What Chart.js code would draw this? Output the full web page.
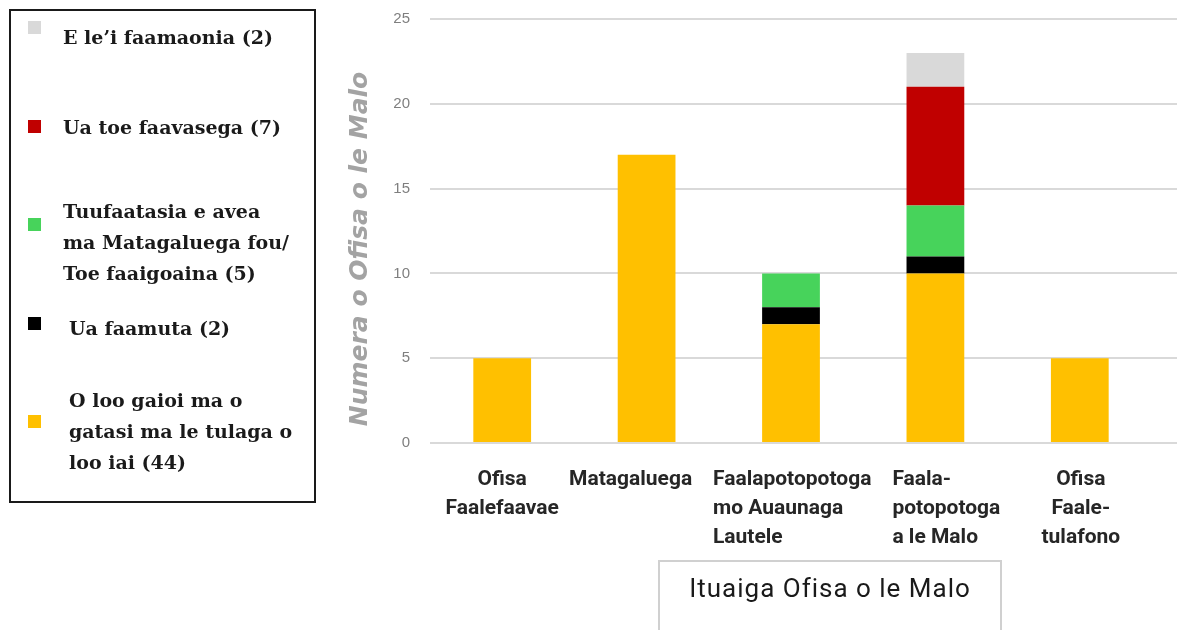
<!DOCTYPE html>
<html lang="sm">
<head>
<meta charset="UTF-8">
<title>Ituaiga Ofisa o le Malo</title>
<script src="https://cdn.jsdelivr.net/npm/chart.js"></script>
<style>
  html, body { margin: 0; padding: 0; background: #fff; }
  #wrap { position: relative; width: 1177px; height: 630px; overflow: hidden; }
  #myChart { position: absolute; left: 0; top: 0; }
  #legend {
    position: absolute; left: 9px; top: 9px; width: 303px; height: 490px;
    border: 2px solid #1a1a1a; box-sizing: content-box;
    font-family: 'DejaVu Serif', 'Liberation Serif', serif; font-weight: bold;
    font-size: 19px; line-height: 31px; color: #1a1a1a;
  }
  .box { position: absolute; width: 13px; height: 13px; left: 17px; }
  .txt { position: absolute; white-space: nowrap; }
  #ytitle {
    position: absolute; left: 359px; top: 249px; width: 400px; height: 30px;
    margin-left: -200px; margin-top: -15px; transform: rotate(-90deg);
    text-align: center; line-height: 30px; white-space: nowrap;
    font-family: 'DejaVu Sans', Verdana, sans-serif; font-size: 25px;
    font-weight: bold; font-style: italic; color: #a3a3a3;
  }
  #xtitle {
    position: absolute; left: 658px; top: 560px; width: 344px; height: 80px;
    border: 2px solid #d0d0d0; box-sizing: border-box;
    font-family: Roboto, sans-serif; letter-spacing: 1px;
    font-size: 26px; color: #1a1a1a; text-align: center; padding-top: 11px;
  }
</style>
</head>
<body>
<div id="wrap">
  <canvas id="myChart" width="1177" height="630"></canvas>
  <div id="legend"></div>
  <div id="ytitle">Numera o Ofisa o le Malo</div>
  <div id="xtitle">Ituaiga Ofisa o le Malo</div>
</div>
<script>
// Categories (x axis tick labels, one array per line)
const categories = [
  ['Ofisa', 'Faalefaavae'],
  ['Matagaluega'],
  ['Faalapotopotoga', 'mo Auaunaga', 'Lautele'],
  ['Faala-', 'potopotoga', 'a le Malo'],
  ['Ofisa', 'Faale-', 'tulafono']
];

// Series values, bottom of the stack first
const gaioi     = [5, 17, 7, 10, 5];
const faamuta   = [0, 0, 1, 1, 0];
const tuufaatas = [0, 0, 2, 3, 0];
const faavasega = [0, 0, 0, 7, 0];
const faamaonia = [0, 0, 0, 2, 0];

const seriesLabels = [
  'O loo gaioi ma o gatasi ma le tulaga o loo iai (44)',
  'Ua faamuta (2)',
  'Tuufaatasia e avea ma Matagaluega fou/ Toe faaigoaina (5)',
  'Ua toe faavasega (7)',
  "E le\u2019i faamaonia (2)"
];
// legend text as it is broken into lines in the picture
const legendLines = [
  ['O loo gaioi ma o', 'gatasi ma le tulaga o', 'loo iai (44)'],
  ['Ua faamuta (2)'],
  ['Tuufaatasia e avea', 'ma Matagaluega fou/', 'Toe faaigoaina (5)'],
  ['Ua toe faavasega (7)'],
  ["E le\u2019i faamaonia (2)"]
];
const seriesColors = ['#FFC000', '#000000', '#47D35B', '#C00000', '#D9D9D9'];

const yTicks = [0, 5, 10, 15, 20, 25];

// legend layout (legend order top -> bottom)
const legendLayout = [
  { box: 10, txt: 11, x: 52 },   // faamaonia
  { box: 109, txt: 101, x: 52 }, // faavasega
  { box: 207, txt: 185, x: 52 }, // tuufaatasia
  { box: 306, txt: 302, x: 58 }, // faamuta
  { box: 404, txt: 374, x: 58 }  // gaioi
];

// x label placement relative to the category centre
const xLabelLayout = [
  { align: 'center', dx: 0 },
  { align: 'center', dx: -16 },
  { align: 'left', dx: -78 },
  { align: 'left', dx: -43 },
  { align: 'center', dx: 1 }
];

function buildLegend() {
  const legend = document.getElementById('legend');
  const order = [4, 3, 2, 1, 0];
  order.forEach((si, k) => {
    const b = document.createElement('div');
    b.className = 'box';
    b.style.top = legendLayout[k].box + 'px';
    b.style.background = seriesColors[si];
    legend.appendChild(b);
    const t = document.createElement('div');
    t.className = 'txt';
    t.style.top = legendLayout[k].txt + 'px';
    t.style.left = legendLayout[k].x + 'px';
    t.innerHTML = legendLines[si].join('<br>');
    legend.appendChild(t);
  });
}

// extend horizontal gridlines to the right edge of the picture
const gridExtend = {
  id: 'gridExtend',
  beforeDatasetsDraw(chart) {
    const ctx = chart.ctx;
    const y = chart.scales.y;
    ctx.save();
    ctx.strokeStyle = '#d9d9d9';
    ctx.lineWidth = 2;
    yTicks.forEach(v => {
      const py = Math.round(y.getPixelForValue(v));
      ctx.beginPath();
      ctx.moveTo(chart.chartArea.right, py);
      ctx.lineTo(chart.width, py);
      ctx.stroke();
    });
    ctx.restore();
  }
};

// category labels, placed from the x scale
const xLabels = {
  id: 'xLabels',
  afterDraw(chart) {
    const ctx = chart.ctx;
    const x = chart.scales.x;
    const top = chart.chartArea.bottom + 37;
    ctx.save();
    ctx.fillStyle = '#262626';
    ctx.font = 'bold 21px Roboto, sans-serif';
    ctx.textBaseline = 'middle';
    categories.forEach((lines, i) => {
      const lay = xLabelLayout[i];
      ctx.textAlign = lay.align;
      const px = x.getPixelForValue(i) + lay.dx;
      lines.forEach((line, j) => ctx.fillText(line, px, top + j * 29));
    });
    ctx.restore();
  }
};

function drawChart() {
  const ctx = document.getElementById('myChart').getContext('2d');
  const values = [gaioi, faamuta, tuufaatas, faavasega, faamaonia];
  const datasets = values.map((data, i) => ({
    label: seriesLabels[i],
    data: data,
    backgroundColor: seriesColors[i],
    borderWidth: 0,
    barPercentage: 0.8,
    categoryPercentage: 0.5
  }));

  new Chart(ctx, {
    type: 'bar',
    data: { labels: categories, datasets: datasets },
    plugins: [gridExtend, xLabels],
    options: {
      responsive: false,
      animation: false,
      layout: { padding: { left: 330, right: 25, top: 19, bottom: 0 } },
      plugins: { legend: { display: false }, tooltip: { enabled: false } },
      scales: {
        x: {
          stacked: true,
          grid: { display: false, drawTicks: false },
          border: { display: false },
          ticks: { display: false },
          afterFit(scale) { scale.height = 187; }
        },
        y: {
          stacked: true,
          min: 0,
          max: 25,
          afterBuildTicks(scale) { scale.ticks = yTicks.map(v => ({ value: v })); },
          grid: { color: '#d9d9d9', lineWidth: 2, drawTicks: false },
          border: { display: false },
          ticks: {
            color: '#7f7f7f',
            padding: 20,
            font: { family: "'Liberation Sans', Arial, sans-serif", size: 15 }
          },
          afterFit(scale) {
            scale.width = 100;
            scale.paddingTop = 0;
            scale.paddingBottom = 0;
          }
        }
      }
    }
  });
}

buildLegend();
drawChart();
</script>
</body>
</html>
